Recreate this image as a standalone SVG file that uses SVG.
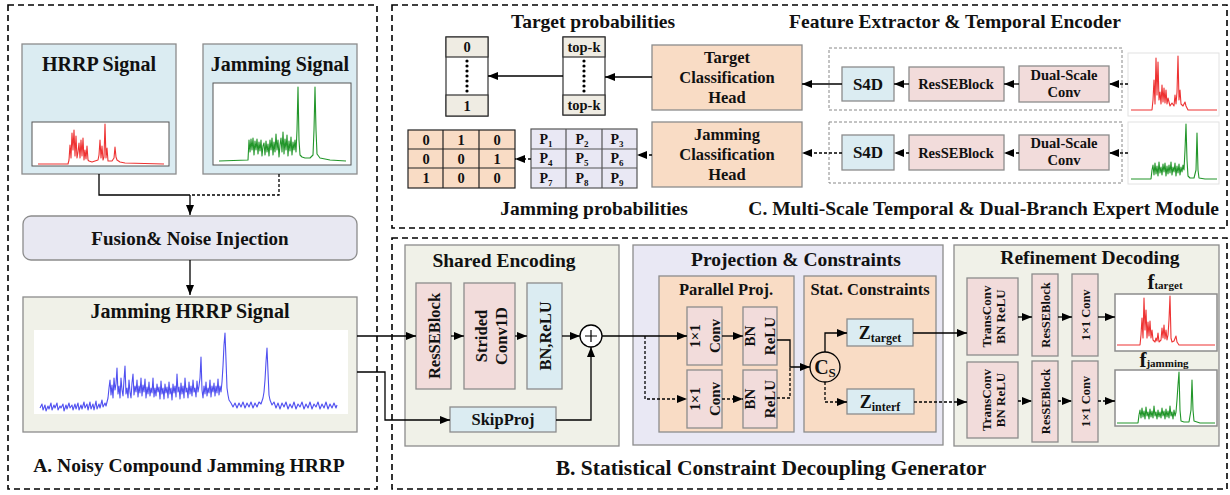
<svg xmlns="http://www.w3.org/2000/svg" width="1230" height="495" viewBox="0 0 1230 495">
<style>
.t{font-family:"Liberation Serif","Times New Roman",serif;font-weight:bold;fill:#111;text-anchor:middle}
.h{font-size:19.5px}
.m{font-size:16.5px}
.s{font-size:14.5px}
.box{stroke:#8c8c8c;stroke-width:1.3}
.blue{fill:#dbecf2}
.pink{fill:#f2dcdb}
.peach{fill:#f9dcc5}
.lav{fill:#e9e8f4}
.beige{fill:#f0f1e8}
.cell{stroke:#333;stroke-width:1.2}
.ln{stroke:#000;stroke-width:1.3;fill:none}
.d{stroke-dasharray:3,2}
.panel{fill:none;stroke:#000;stroke-width:1.6;stroke-dasharray:6,4}
.sig{fill:none;stroke-width:1.1;stroke-linejoin:round}
</style>
<defs>
<marker id="ah" viewBox="0 0 10 8" refX="10" refY="4" markerWidth="10" markerHeight="8" markerUnits="userSpaceOnUse" orient="auto"><path d="M0,0L10,4L0,8z" fill="#000"/></marker>
<g id="vdots" fill="#000"><circle cx="0" cy="0" r="1.6"/><circle cx="0" cy="5" r="1.6"/><circle cx="0" cy="10" r="1.6"/><circle cx="0" cy="15" r="1.6"/><circle cx="0" cy="20" r="1.6"/><circle cx="0" cy="25" r="1.6"/><circle cx="0" cy="30" r="1.6"/></g>
</defs>
<rect width="1230" height="495" fill="#fff"/>

<!-- Panel backgrounds -->
<g id="panelA">
<rect x="8" y="5" width="369" height="484" fill="#fff" class="panel"/>
<text class="t h" x="189" y="472">A. Noisy Compound Jamming HRRP</text>
</g>
<g id="panelC">
<rect x="392" y="5" width="835" height="223" fill="#f4f4f4" class="panel"/>
<text class="t h" x="593" y="28">Target probabilities</text>
<text class="t h" x="955" y="28">Feature Extractor &amp; Temporal Encoder</text>
<text class="t h" x="594" y="215">Jamming probabilities</text>
<text class="t h" x="1219" y="215" style="text-anchor:end">C. Multi-Scale Temporal &amp; Dual-Branch Expert Module</text>
</g>
<g id="panelB">
<rect x="392" y="238" width="835" height="251" fill="#f4f4f4" class="panel"/>
<text class="t" x="771" y="475" style="font-size:21.5px">B. Statistical Constraint Decoupling Generator</text>
</g>

<!-- Panel A nodes -->
<g id="hrrpSignal">
<rect x="22" y="44" width="154" height="130" class="box blue"/>
<text class="t" x="99" y="71" style="font-size:20px">HRRP Signal</text>
<rect x="32" y="122" width="137" height="44" fill="#fff" stroke="#555" stroke-width="1"/>
<path class="sig" stroke="#ee3333" d="M38,164 L68,164 L69,160 L70,145 L71,158 L72,133 L73,150 L74,130 L75,156 L76,136 L77,158 L78,152 L79,143 L80,158 L81,140 L82,156 L83,138 L84,160 L85,150 L86,159 L87,146 L88,160 L89,161 L92,162 L95,161 L98,160 L99,155 L100,140 L101,158 L102,146 L103,160 L104,157 L105,124 L106,158 L107,148 L108,161 L112,161 L114,158 L115,147 L116,157 L117,160 L120,162 L125,163 L164,164"/>
</g>
<g id="jammingSignal">
<rect x="203" y="44" width="154" height="130" class="box blue"/>
<text class="t" x="280" y="71" style="font-size:20px">Jamming Signal</text>
<rect x="213" y="83" width="138" height="82" fill="#fff" stroke="#555" stroke-width="1"/>
<path class="sig" stroke="#22962a" d="M219,161 L248,160 L249,140 L250,152 L251,139 L252,150 L253,138 L254,155 L255,141 L256,150 L257,139 L258,154 L259,142 L260,151 L261,140 L262,156 L263,146 L264,143 L265,155 L266,141 L267,152 L268,144 L269,156 L270,140 L271,150 L272,138 L273,155 L274,142 L275,152 L276,134 L277,150 L278,140 L279,157 L280,145 L281,138 L282,152 L283,132 L284,154 L285,139 L286,150 L287,135 L288,156 L289,141 L290,151 L291,137 L292,155 L293,142 L294,150 L295,140 L296,152 L297,130 L298,87 L299,140 L300,155 L302,157 L305,158 L310,158 L313,155 L314,130 L315,87 L316,130 L317,154 L320,158 L330,160 L346,161"/>
</g>
<g id="fusion">
<rect x="23" y="216" width="334" height="44" rx="8" fill="#e8e8f2" stroke="#8c8c8c" stroke-width="1.3"/>
<text class="t" x="190" y="245" style="font-size:19px">Fusion&amp; Noise Injection</text>
</g>
<g id="jammingHRRP">
<rect x="23" y="297" width="334" height="135" class="box beige"/>
<text class="t" x="190" y="318" style="font-size:20px">Jamming HRRP Signal</text>
<rect x="34" y="330" width="314" height="84" fill="#fff"/>
<path class="sig" stroke="#5050f0" stroke-width="1.7" d="M40,408 L42,404 L43,410 L45,405 L46,411 L48,406 L49,409 L51,403 L52,410 L54,405 L55,408 L57,403 L58,410 L60,406 L61,408 L63,404 L64,411 L66,405 L67,409 L69,403 L70,408 L72,405 L73,410 L75,404 L76,409 L78,403 L79,410 L81,405 L82,409 L84,402 L85,408 L87,404 L88,410 L90,402 L91,409 L93,404 L94,410 L96,401 L97,409 L99,404 L100,408 L102,400 L103,407 L105,403 L106,406 L108,398 L109,388 L110,380 L111,395 L112,385 L113,398 L114,378 L115,390 L116,384 L117,368 L118,394 L119,386 L120,398 L121,378 L122,390 L123,396 L124,380 L125,366 L126,394 L127,388 L128,398 L129,380 L130,392 L131,398 L132,383 L133,374 L134,395 L135,386 L136,392 L137,380 L138,397 L139,386 L140,393 L141,378 L142,396 L143,385 L144,392 L145,379 L146,398 L147,387 L148,394 L149,382 L150,396 L151,388 L152,393 L153,378 L154,397 L155,388 L156,396 L157,384 L158,392 L159,387 L160,399 L161,381 L162,394 L163,388 L164,399 L165,384 L166,393 L167,387 L168,398 L169,382 L170,394 L171,388 L172,400 L173,384 L174,393 L175,386 L176,397 L177,374 L178,392 L179,387 L180,399 L181,383 L182,394 L183,386 L184,398 L185,378 L186,392 L187,388 L188,398 L189,382 L190,394 L191,386 L192,396 L193,380 L194,392 L195,388 L196,397 L197,381 L198,392 L199,386 L200,378 L201,357 L202,390 L203,398 L204,386 L205,394 L206,382 L207,396 L208,388 L209,393 L210,380 L211,397 L212,386 L213,392 L214,383 L215,396 L216,386 L217,393 L218,379 L219,395 L220,386 L221,392 L222,382 L223,366 L224,345 L225,333 L226,360 L227,388 L228,395 L229,400 L231,403 L233,407 L235,403 L237,408 L239,403 L241,407 L243,402 L245,408 L247,403 L249,407 L251,402 L253,408 L255,403 L257,407 L259,402 L261,404 L263,398 L264,392 L265,380 L266,362 L267,348 L268,372 L269,395 L270,400 L272,405 L274,402 L276,408 L278,403 L280,409 L282,403 L284,407 L286,402 L288,409 L290,404 L292,408 L294,402 L296,409 L298,404 L300,407 L302,402 L304,409 L306,404 L308,408 L310,402 L312,409 L314,404 L316,407 L318,402 L320,409 L322,404 L324,408 L326,402 L328,409 L330,404 L332,408 L334,403 L336,408 L337,405"/>
</g>

<!-- Panel C nodes -->
<g id="targetProbs">
<rect x="446" y="37" width="42" height="79" fill="#fff" class="cell"/>
<rect x="446" y="37" width="42" height="20" fill="#efece3" class="cell"/>
<rect x="446" y="95" width="42" height="21" fill="#efece3" class="cell"/>
<text class="t s" x="467" y="52">0</text>
<text class="t s" x="467" y="111">1</text>
<use href="#vdots" x="467" y="61"/>
</g>
<g id="topk">
<rect x="563" y="37" width="42" height="78" fill="#fff" class="cell"/>
<rect x="563" y="37" width="42" height="20" fill="#efece3" class="cell"/>
<rect x="563" y="95" width="42" height="20" fill="#efece3" class="cell"/>
<text class="t s" x="584" y="52">top-k</text>
<text class="t s" x="584" y="110">top-k</text>
<use href="#vdots" x="584" y="61"/>
</g>
<g id="targetHead">
<rect x="652" y="45" width="150" height="65" class="box peach"/>
<text class="t m" x="727" y="63">Target</text>
<text class="t m" x="727" y="83">Classification</text>
<text class="t m" x="727" y="103">Head</text>
</g>
<g id="jammingHead">
<rect x="652" y="122" width="150" height="65" class="box peach"/>
<text class="t m" x="727" y="140">Jamming</text>
<text class="t m" x="727" y="160">Classification</text>
<text class="t m" x="727" y="180">Head</text>
</g>
<g id="pGrid">
<rect x="531" y="129" width="106" height="59" class="lav" stroke="#555" stroke-width="1.2"/>
<path d="M566,129V188M602,129V188M531,149H637M531,168H637" stroke="#555" stroke-width="1.2"/>
<g class="t" style="font-size:14px">
<text x="546" y="144">P<tspan font-size="9" dy="3">1</tspan></text>
<text x="582" y="144">P<tspan font-size="9" dy="3">2</tspan></text>
<text x="617" y="144">P<tspan font-size="9" dy="3">3</tspan></text>
<text x="546" y="163">P<tspan font-size="9" dy="3">4</tspan></text>
<text x="582" y="163">P<tspan font-size="9" dy="3">5</tspan></text>
<text x="617" y="163">P<tspan font-size="9" dy="3">6</tspan></text>
<text x="546" y="183">P<tspan font-size="9" dy="3">7</tspan></text>
<text x="582" y="183">P<tspan font-size="9" dy="3">8</tspan></text>
<text x="617" y="183">P<tspan font-size="9" dy="3">9</tspan></text>
</g>
</g>
<g id="binaryGrid">
<rect x="408" y="130" width="107" height="58" class="peach" stroke="#222" stroke-width="1.2"/>
<path d="M443,130V188M479,130V188M408,149H515M408,168H515" stroke="#222" stroke-width="1.2"/>
<g class="t s">
<text x="426" y="145">0</text><text x="461" y="145">1</text><text x="497" y="145">0</text>
<text x="426" y="164">0</text><text x="461" y="164">0</text><text x="497" y="164">1</text>
<text x="426" y="183">1</text><text x="461" y="183">0</text><text x="497" y="183">0</text>
</g>
</g>
<g id="targetBranch">
<rect x="829" y="48" width="293" height="62" fill="none" stroke="#888" stroke-width="1" stroke-dasharray="3,2"/>
<rect x="842" y="67" width="52" height="34" class="box blue"/>
<text class="t" x="868" y="90" style="font-size:17px">S4D</text>
<rect x="909" y="67" width="95" height="34" class="box pink"/>
<text class="t s" x="956" y="89">ResSEBlock</text>
<rect x="1019" y="66" width="90" height="36" class="box pink"/>
<text class="t s" x="1064" y="80">Dual-Scale</text>
<text class="t s" x="1064" y="97">Conv</text>
<rect x="1128" y="53" width="91" height="63" fill="#fff" stroke="#e2e2e2" stroke-width="1"/>
<path class="sig" stroke="#ee3333" d="M1131,110 L1152,110 L1153,100 L1154,80 L1155,104 L1156,58 L1157,95 L1158,62 L1159,100 L1160,92 L1161,104 L1162,85 L1163,102 L1164,88 L1165,103 L1166,90 L1167,104 L1168,98 L1170,106 L1172,103 L1174,106 L1175,95 L1176,104 L1177,92 L1178,56 L1179,100 L1180,90 L1181,104 L1183,106 L1185,102 L1186,106 L1188,110 L1217,110"/>
</g>
<g id="jammingBranch">
<rect x="829" y="122" width="293" height="61" fill="none" stroke="#888" stroke-width="1" stroke-dasharray="3,2"/>
<rect x="842" y="135" width="52" height="35" class="box blue"/>
<text class="t" x="868" y="158" style="font-size:17px">S4D</text>
<rect x="909" y="135" width="95" height="35" class="box pink"/>
<text class="t s" x="956" y="158">ResSEBlock</text>
<rect x="1019" y="135" width="90" height="35" class="box pink"/>
<text class="t s" x="1064" y="148">Dual-Scale</text>
<text class="t s" x="1064" y="165">Conv</text>
<rect x="1128" y="122" width="91" height="62" fill="#fff" stroke="#e2e2e2" stroke-width="1"/>
<path class="sig" stroke="#22962a" d="M1131,179 L1151,179 L1152,170 L1153,165 L1154,175 L1155,163 L1156,174 L1157,166 L1158,176 L1159,162 L1160,173 L1161,167 L1162,175 L1163,164 L1164,172 L1165,163 L1166,176 L1167,166 L1168,174 L1169,165 L1170,173 L1171,162 L1172,175 L1173,167 L1174,172 L1175,163 L1176,176 L1177,166 L1178,173 L1179,164 L1180,175 L1181,167 L1182,172 L1183,165 L1184,170 L1185,150 L1186,124 L1187,160 L1188,176 L1190,178 L1194,178 L1196,170 L1197,133 L1198,170 L1199,178 L1205,179 L1217,179"/>
</g>

<!-- Panel B nodes -->
<g id="sharedEncoding">
<rect x="405" y="245" width="214" height="201" class="box beige"/>
<text class="t h" x="504" y="267">Shared Encoding</text>
<rect x="416" y="283" width="35" height="106" class="box pink"/>
<text class="t m" transform="translate(433.5,336) rotate(-90)" y="6">ResSEBlock</text>
<rect x="464" y="283" width="51" height="106" class="box pink"/>
<text class="t m" transform="translate(489.5,336) rotate(-90)"><tspan x="0" y="-3">Strided</tspan><tspan x="0" y="17">Conv1D</tspan></text>
<rect x="527" y="283" width="35" height="106" class="box blue"/>
<text class="t m" transform="translate(544.5,336) rotate(-90)" y="6">BN,ReLU</text>
<rect x="450" y="407" width="106" height="25" class="box blue"/>
<text class="t m" x="503" y="425">SkipProj</text>
</g>
<g id="sum">
<circle cx="591" cy="336" r="11" fill="#fff" stroke="#000" stroke-width="1.3"/>
<path d="M585,336H597M591,330V342" stroke="#000" stroke-width="1.2"/>
</g>
<g id="projection">
<rect x="633" y="245" width="310" height="200" class="box lav"/>
<text class="t h" x="796" y="266">Projection &amp; Constraints</text>
<rect x="659" y="276" width="135" height="156" class="box peach"/>
<text class="t m" x="726" y="295">Parallel Proj.</text>
<rect x="804" y="276" width="132" height="156" class="box peach"/>
<text class="t m" x="870" y="295">Stat. Constraints</text>
<rect x="687" y="307" width="35" height="58" class="box pink"/>
<text class="t" style="font-size:15px" transform="translate(704.5,336) rotate(-90)"><tspan x="0" y="-5">1×1</tspan><tspan x="0" y="15">Conv</tspan></text>
<rect x="743" y="307" width="34" height="58" class="box pink"/>
<text class="t" style="font-size:15px" transform="translate(760,336) rotate(-90)"><tspan x="0" y="-5">BN</tspan><tspan x="0" y="15">ReLU</tspan></text>
<rect x="687" y="370" width="35" height="58" class="box pink"/>
<text class="t" style="font-size:15px" transform="translate(704.5,399) rotate(-90)"><tspan x="0" y="-5">1×1</tspan><tspan x="0" y="15">Conv</tspan></text>
<rect x="743" y="370" width="34" height="58" class="box pink"/>
<text class="t" style="font-size:15px" transform="translate(760,399) rotate(-90)"><tspan x="0" y="-5">BN</tspan><tspan x="0" y="15">ReLU</tspan></text>
</g>
<g id="cs">
<circle cx="825" cy="367" r="15" fill="#f9dcc5" stroke="#000" stroke-width="1.3"/>
<text class="t" x="825" y="374" style="font-size:20px">C<tspan font-size="13" dy="3">S</tspan></text>
</g>
<g id="zTarget">
<rect x="847" y="319" width="66" height="27" class="box blue"/>
<text class="t" x="880" y="339" style="font-size:18px">Z<tspan font-size="12" dy="3">target</tspan></text>
</g>
<g id="zInterf">
<rect x="847" y="389" width="67" height="25" class="box blue"/>
<text class="t" x="880" y="408" style="font-size:18px">Z<tspan font-size="12" dy="3">interf</tspan></text>
</g>
<g id="refinement">
<rect x="954" y="245" width="265" height="201" class="box beige"/>
<text class="t h" x="1090" y="264">Refinement Decoding</text>
<rect x="967" y="278" width="51" height="77" class="box pink"/>
<text class="t" style="font-size:13px" transform="translate(992.5,316.5) rotate(-90)"><tspan x="0" y="-1.5">TransConv</tspan><tspan x="0" y="12">BN ReLU</tspan></text>
<rect x="967" y="362" width="51" height="76" class="box pink"/>
<text class="t" style="font-size:13px" transform="translate(992.5,400) rotate(-90)"><tspan x="0" y="-1.5">TransConv</tspan><tspan x="0" y="12">BN ReLU</tspan></text>
<rect x="1032" y="274" width="26" height="82" class="box pink"/>
<text class="t" style="font-size:12.5px" transform="translate(1045,315) rotate(-90)" y="4.5">ResSEBlock</text>
<rect x="1032" y="361" width="26" height="81" class="box pink"/>
<text class="t" style="font-size:12.5px" transform="translate(1045,401.5) rotate(-90)" y="4.5">ResSEBlock</text>
<rect x="1072" y="274" width="26" height="82" class="box pink"/>
<text class="t" style="font-size:12.5px" transform="translate(1085,315) rotate(-90)" y="4.5">1×1 Conv</text>
<rect x="1072" y="361" width="26" height="81" class="box pink"/>
<text class="t" style="font-size:12.5px" transform="translate(1085,401.5) rotate(-90)" y="4.5">1×1 Conv</text>
</g>
<g id="fTarget">
<text class="t" x="1165" y="289" style="font-size:21px">f<tspan font-size="11" dy="0">target</tspan></text>
<rect x="1115" y="294" width="102" height="57" fill="#fff" stroke="#8c8c8c" stroke-width="1.5"/>
<path class="sig" stroke="#ee3333" d="M1117,345 L1140,345 L1141,335 L1142,318 L1143,338 L1144,298 L1145,330 L1146,310 L1147,338 L1148,322 L1149,336 L1150,321 L1151,338 L1152,330 L1153,340 L1155,342 L1156,338 L1157,341 L1158,333 L1159,342 L1161,340 L1162,328 L1163,338 L1164,325 L1165,339 L1166,330 L1167,340 L1168,335 L1169,320 L1170,296 L1171,338 L1172,342 L1174,341 L1176,336 L1177,342 L1179,345 L1215,345"/>
</g>
<g id="fJamming">
<text class="t" x="1164" y="367" style="font-size:21px">f<tspan font-size="11" dy="0">jamming</tspan></text>
<rect x="1115" y="370" width="102" height="56" fill="#fff" stroke="#8c8c8c" stroke-width="1.5"/>
<path class="sig" stroke="#22962a" d="M1117,423 L1138,423 L1139,415 L1140,410 L1141,418 L1142,408 L1143,417 L1144,411 L1145,419 L1146,407 L1147,416 L1148,412 L1149,419 L1150,409 L1151,417 L1152,411 L1153,418 L1154,406 L1155,416 L1156,412 L1157,419 L1158,410 L1159,417 L1160,412 L1161,418 L1162,408 L1163,416 L1164,411 L1165,419 L1166,409 L1167,417 L1168,411 L1169,418 L1170,406 L1171,416 L1172,412 L1173,419 L1174,410 L1175,416 L1176,412 L1177,400 L1178,385 L1179,372 L1180,410 L1181,421 L1184,422 L1189,422 L1191,410 L1192,380 L1193,410 L1194,421 L1200,423 L1215,423"/>
</g>

<!-- Connectors -->
<g id="connectors">
<polyline class="ln" points="99,174 99,195 190,195"/>
<polyline class="ln d" points="279,174 279,195 190,195"/>
<line class="ln" x1="190" y1="195" x2="190" y2="215" marker-end="url(#ah)"/>
<line class="ln" x1="190" y1="260" x2="190" y2="295" marker-end="url(#ah)"/>
<line class="ln" x1="357" y1="336" x2="416" y2="336" marker-end="url(#ah)"/>
<polyline class="ln" points="357,372 385,372 385,420 450,420" marker-end="url(#ah)"/>
<line class="ln" x1="451" y1="336" x2="464" y2="336" marker-end="url(#ah)"/>
<line class="ln" x1="515" y1="336" x2="527" y2="336" marker-end="url(#ah)"/>
<line class="ln" x1="562" y1="336" x2="580" y2="336" marker-end="url(#ah)"/>
<polyline class="ln" points="556,420 591,420 591,347" marker-end="url(#ah)"/>
<line class="ln" x1="602" y1="336" x2="687" y2="336" marker-end="url(#ah)"/>
<polyline class="ln d" points="645,336 645,399 687,399" marker-end="url(#ah)"/>
<line class="ln" x1="722" y1="336" x2="743" y2="336" marker-end="url(#ah)"/>
<line class="ln d" x1="722" y1="399" x2="743" y2="399" marker-end="url(#ah)"/>
<polyline class="ln" points="777,340 790,340 790,367 810,367" marker-end="url(#ah)"/>
<polyline class="ln d" points="777,398 790,398 790,367"/>
<polyline class="ln" points="825,352 825,333 847,333" marker-end="url(#ah)"/>
<polyline class="ln d" points="825,382 825,402 847,402" marker-end="url(#ah)"/>
<line class="ln" x1="913" y1="333" x2="967" y2="333" marker-end="url(#ah)"/>
<line class="ln d" x1="914" y1="402" x2="967" y2="402" marker-end="url(#ah)"/>
<line class="ln" x1="1018" y1="317" x2="1032" y2="317" marker-end="url(#ah)"/>
<line class="ln" x1="1058" y1="317" x2="1072" y2="317" marker-end="url(#ah)"/>
<line class="ln" x1="1098" y1="317" x2="1115" y2="317" marker-end="url(#ah)"/>
<line class="ln d" x1="1018" y1="401" x2="1032" y2="401" marker-end="url(#ah)"/>
<line class="ln d" x1="1058" y1="401" x2="1072" y2="401" marker-end="url(#ah)"/>
<line class="ln d" x1="1098" y1="401" x2="1115" y2="401" marker-end="url(#ah)"/>
<line class="ln d" x1="1128" y1="84" x2="1109" y2="84" marker-end="url(#ah)"/>
<line class="ln" x1="1019" y1="84" x2="1004" y2="84" marker-end="url(#ah)"/>
<line class="ln" x1="909" y1="84" x2="894" y2="84" marker-end="url(#ah)"/>
<line class="ln" x1="842" y1="84" x2="802" y2="84" marker-end="url(#ah)"/>
<line class="ln d" x1="1128" y1="153" x2="1109" y2="153" marker-end="url(#ah)"/>
<line class="ln d" x1="1019" y1="153" x2="1004" y2="153" marker-end="url(#ah)"/>
<line class="ln d" x1="909" y1="153" x2="894" y2="153" marker-end="url(#ah)"/>
<line class="ln d" x1="842" y1="153" x2="802" y2="153" marker-end="url(#ah)"/>
<line class="ln" x1="652" y1="77" x2="605" y2="77" marker-end="url(#ah)"/>
<line class="ln" x1="563" y1="76" x2="488" y2="76" marker-end="url(#ah)"/>
<line class="ln d" x1="652" y1="155" x2="637" y2="155" marker-end="url(#ah)"/>
<line class="ln d" x1="531" y1="159" x2="515" y2="159" marker-end="url(#ah)"/>
</g>
</svg>
